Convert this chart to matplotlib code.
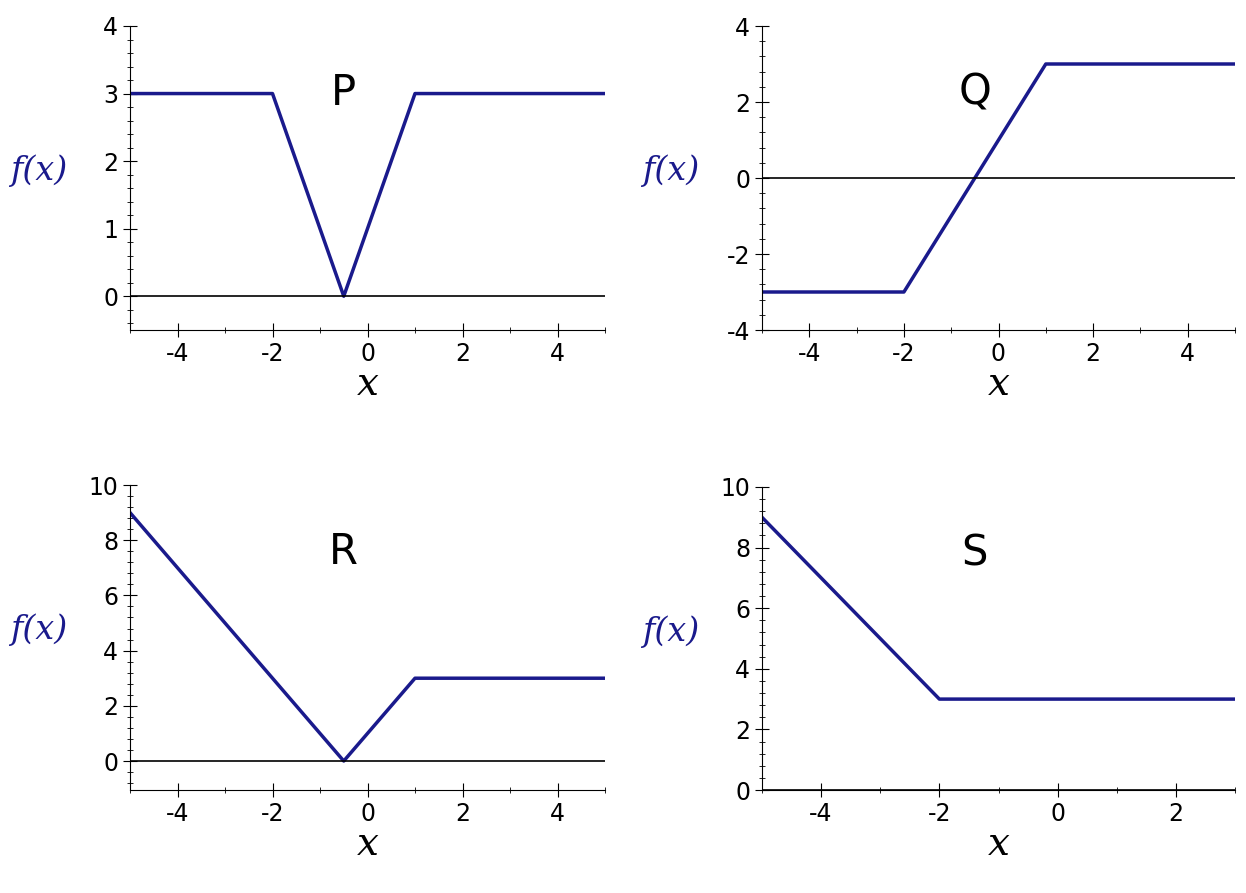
import matplotlib
matplotlib.use("Agg")
import matplotlib.pyplot as plt
from matplotlib.ticker import MultipleLocator

plt.rcParams["axes.unicode_minus"] = False
W, H = 1246, 893
# breakpoints of each piecewise-linear function
px = [-5, -2, -0.5, 1, 5];   py = [3, 3, 0, 3, 3]
qx = [-5, -2, 1, 5];         qy = [-3, -3, 3, 3]
rx = [-5, -0.5, 1, 5];       ry = [9, 0, 3, 3]
sx = [-5, -2, 3];            sy = [9, 3, 3]

panels = [
    ("P", px, py, (-5, 5), (-0.5, 4), (130, 26, 605, 330), (1, 0.2)),
    ("Q", qx, qy, (-5, 5), (-4, 4), (762, 26, 1235, 330), (2, 0.4)),
    ("R", rx, ry, (-5, 5), (-1.05, 10), (130, 485, 605, 790), (2, 0.4)),
    ("S", sx, sy, (-5, 3), (0, 10), (762, 487, 1235, 790), (2, 0.4)),
]

fig = plt.figure(figsize=(W/100, H/100), dpi=100)
fig.patch.set_facecolor("white")
navy = "#1a1a8c"
for name, xs, ys, xl, yl, (l, t, r, b), (ym, ymn) in panels:
    ax = fig.add_axes([l/W, 1-b/H, (r-l)/W, (b-t)/H])
    ax.plot(xs, ys, color=navy, lw=2.5)
    ax.axhline(0, color="black", lw=1.2)
    ax.set_xlim(*xl); ax.set_ylim(*yl)
    for s in ["top", "right"]:
        ax.spines[s].set_visible(False)
    ax.xaxis.set_major_locator(MultipleLocator(2))
    ax.xaxis.set_minor_locator(MultipleLocator(1))
    ax.yaxis.set_major_locator(MultipleLocator(ym))
    ax.yaxis.set_minor_locator(MultipleLocator(ymn))
    ax.tick_params(which="major", direction="inout", length=10, labelsize=17)
    ax.tick_params(which="minor", direction="inout", length=5)
    ax.text(0.45, 0.78, name, transform=ax.transAxes, fontsize=30, ha="center", va="center")
    ax.set_xlabel("x", fontsize=28, family="DejaVu Serif", style="italic", labelpad=0)
    fig.text((l-120)/W, 1-(t+145)/H, "f(x)", fontsize=24, family="DejaVu Serif",
             style="italic", color=navy, va="center")
fig.savefig("out.png", dpi=100)
